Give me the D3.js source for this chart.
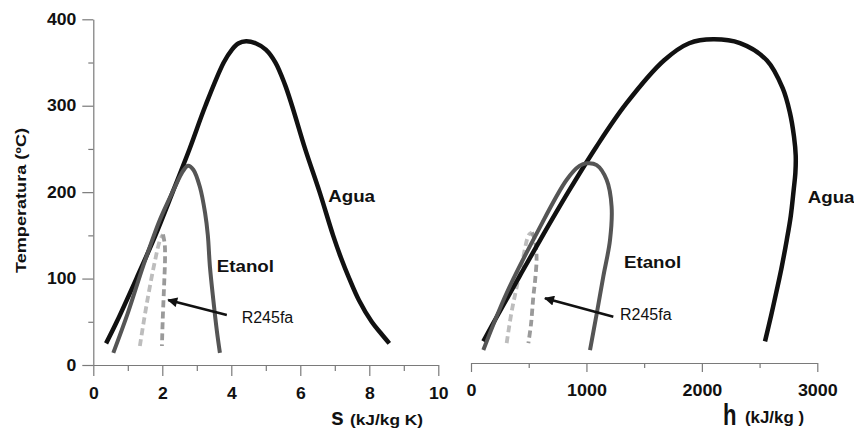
<!DOCTYPE html>
<html>
<head>
<meta charset="utf-8">
<script src="https://cdn.jsdelivr.net/npm/d3@7"></script>
<style>
  body { margin: 0; background: #fff; }
  text { font-family: "Liberation Sans", Arial, sans-serif; }
</style>
</head>
<body>
<svg id="chart" width="854" height="430"></svg>
<script>
// ---- data ----
// T-s diagram, [s (kJ/kg K), T (ºC)]
const aguaS = [[0.37,25],[0.68,50],[1.25,100],[1.80,150],[2.30,200],[2.79,250],[3.25,300],[3.78,350],[4.02,365],[4.2,372],[4.43,374.5],
  [4.72,372],[5.0,365],[5.28,350],[5.55,325],[5.76,300],[6.14,250],[6.56,200],[6.95,150],[7.17,125],[7.42,100],[7.7,75],
  [8.07,50],[8.33,37],[8.58,25]];
const etanolS = [[0.58,14],[1.0,60],[1.45,115],[1.93,168],[2.32,202],[2.61,225],[2.75,230.5],[2.9,226],[3.09,206],[3.24,176],
  [3.32,150],[3.38,114],[3.48,75],[3.58,40],[3.67,14]];
const r245LiqS = [[1.35,22],[1.55,71],[1.79,121],[1.93,144],[2.02,151]];
const r245VapS = [[2.02,151],[2.07,140],[2.08,125],[2.05,90],[2.01,50],[1.99,22]];

// T-h diagram, [h (kJ/kg), T (ºC)]
const aguaH = [[107,25],[209,50],[419,100],[632,150],[852,200],[1085,250],[1344,300],[1671,350],[1890,370],[2099,374.5],
  [2330,370],[2564,350],[2700,318],[2762,290],[2798,262],[2813,240],[2810,220],[2795,200],[2770,170],[2735,142],
  [2690,110],[2650,85],[2600,55],[2547,25]];
const etanolH = [[107,15],[309,81],[569,150],[829,212],[940,228],[1002,231],[1089,229],[1175,212],[1218,181],[1204,142],
  [1146,100],[1089,57],[1031,15]];
const r245LiqH = [[309,23],[350,58],[396,88],[453,123],[500,148],[527,151]];
const r245VapH = [[527,151],[552,143],[568,123],[555,95],[540,77],[520,45],[497,23]];

const tTicks = [0, 100, 200, 300, 400];
const tMinor = [50, 150, 250, 350];
const sTicks = [0, 2, 4, 6, 8, 10];
const sMinor = [1, 3, 5, 7, 9];
const hTicks = [0, 1000, 2000, 3000];
const hMinor = [500, 1500, 2500];

const svg = d3.select("#chart");

// scales
const xS = d3.scaleLinear().domain([0, 10]).range([93.3, 438.3]);
const yS = d3.scaleLinear().domain([0, 400]).range([365, 19.3]);
const xH = d3.scaleLinear().domain([0, 3000]).range([471, 817.3]);
const yH = d3.scaleLinear().domain([0, 400]).range([363, 17.3]);

function stretch(sel, k) {
  sel.each(function() {
    const len = this.getComputedTextLength();
    d3.select(this).attr("textLength", len * k).attr("lengthAdjust", "spacingAndGlyphs");
  });
}

function styleAxis(g) {
  g.selectAll("path.domain").attr("stroke", "#7a7a7a").attr("stroke-width", 1.2);
  g.selectAll(".tick line").attr("stroke", "#7a7a7a").attr("stroke-width", 1.2);
  g.selectAll(".tick text")
    .attr("fill", "#111")
    .style("font-size", "16px")
    .style("font-weight", "bold")
    .style("font-family", "'Liberation Sans', Arial, sans-serif");
}

// ---- left panel axes ----
const yAxisMinor = svg.append("g").attr("transform", "translate(93.3,0)")
  .call(d3.axisLeft(yS).tickValues(tMinor).tickSize(5).tickFormat(""));
yAxisMinor.select("path.domain").remove();
styleAxis(yAxisMinor);
const yAxis = svg.append("g").attr("transform", "translate(93.3,0)")
  .call(d3.axisLeft(yS).tickValues(tTicks).tickSize(11).tickSizeOuter(0).tickPadding(6));
styleAxis(yAxis);
stretch(yAxis.selectAll(".tick text"), 1.1);

const xAxisMinor = svg.append("g").attr("transform", "translate(0,365)")
  .call(d3.axisBottom(xS).tickValues(sMinor).tickSize(6).tickFormat(""));
xAxisMinor.select("path.domain").remove();
styleAxis(xAxisMinor);
const xAxis = svg.append("g").attr("transform", "translate(0,365)")
  .call(d3.axisBottom(xS).tickValues(sTicks).tickSize(11).tickSizeOuter(0).tickPadding(11.5));
styleAxis(xAxis);
stretch(xAxis.selectAll(".tick text"), 1.1);

// ---- right panel axis ----
const hAxisMinor = svg.append("g").attr("transform", "translate(0,363)")
  .call(d3.axisBottom(xH).tickValues(hMinor).tickSize(5).tickFormat(""));
hAxisMinor.select("path.domain").remove();
styleAxis(hAxisMinor);
const hAxis = svg.append("g").attr("transform", "translate(0,363)")
  .call(d3.axisBottom(xH).tickValues(hTicks).tickSize(9).tickSizeOuter(0).tickPadding(13)
    .tickFormat(d3.format("d")));
styleAxis(hAxis);
stretch(hAxis.selectAll(".tick text"), 1.12);

// ---- titles ----
const yTitle = svg.append("text")
  .attr("transform", "translate(26,200.5) rotate(-90)")
  .attr("text-anchor", "middle")
  .style("font-size", "15px").style("font-weight", "bold").attr("fill", "#111")
  .text("Temperatura (ºC)");
yTitle.attr("textLength", 145).attr("lengthAdjust", "spacingAndGlyphs");

svg.append("text").attr("x", 331).attr("y", 425)
  .style("font-size", "23px").style("font-weight", "bold").attr("fill", "#111")
  .text("s");
svg.append("text").attr("x", 350).attr("y", 425)
  .style("font-size", "15px").style("font-weight", "bold").attr("fill", "#111")
  .attr("textLength", 73).attr("lengthAdjust", "spacingAndGlyphs")
  .text("(kJ/kg K)");

svg.append("text").attr("x", 723).attr("y", 425)
  .style("font-size", "30px").style("font-weight", "bold").attr("fill", "#111")
  .attr("textLength", 13.5).attr("lengthAdjust", "spacingAndGlyphs")
  .text("h");
svg.append("text").attr("x", 745).attr("y", 422.5)
  .style("font-size", "16px").style("font-weight", "bold").attr("fill", "#111")
  .attr("textLength", 59).attr("lengthAdjust", "spacingAndGlyphs")
  .text("(kJ/kg )");

// ---- curves ----
function drawPanel(x, y, agua, etanol, liq, vap) {
  const line = d3.line()
    .x(d => x(d[0]))
    .y(d => y(d[1]))
    .curve(d3.curveCatmullRom.alpha(0.5));

  svg.append("path").datum(liq)
    .attr("d", line).attr("fill", "none")
    .attr("stroke", "#bdbdbd").attr("stroke-width", 3.8)
    .attr("stroke-dasharray", "7,4");
  svg.append("path").datum(vap)
    .attr("d", line).attr("fill", "none")
    .attr("stroke", "#9a9a9a").attr("stroke-width", 3.8)
    .attr("stroke-dasharray", "7,4");
  svg.append("path").datum(agua)
    .attr("d", line).attr("fill", "none")
    .attr("stroke", "#111").attr("stroke-width", 4.5);
  svg.append("path").datum(etanol)
    .attr("d", line).attr("fill", "none")
    .attr("stroke", "#555").attr("stroke-width", 4);
}

drawPanel(xS, yS, aguaS, etanolS, r245LiqS, r245VapS);
drawPanel(xH, yH, aguaH, etanolH, r245LiqH, r245VapH);

// ---- annotations ----
svg.append("defs").append("marker")
  .attr("id", "head")
  .attr("viewBox", "0 0 10 10")
  .attr("refX", 9).attr("refY", 5)
  .attr("markerUnits", "userSpaceOnUse")
  .attr("markerWidth", 12).attr("markerHeight", 10)
  .attr("orient", "auto")
  .append("path").attr("d", "M0,0 L10,5 L0,10 z").attr("fill", "#111");

function notes(x, y, list, arrow) {
  list.forEach(function(n) {
    const t = svg.append("text")
      .attr("x", x(n.at[0])).attr("y", y(n.at[1]))
      .attr("fill", "#111")
      .style("font-size", "16px")
      .style("font-weight", n.bold ? "bold" : "normal")
      .text(n.label);
    if (n.bold) stretch(t, 1.17);
  });
  svg.append("line")
    .attr("x1", x(arrow[0][0])).attr("y1", y(arrow[0][1]))
    .attr("x2", x(arrow[1][0])).attr("y2", y(arrow[1][1]))
    .attr("stroke", "#111").attr("stroke-width", 2.6)
    .attr("marker-end", "url(#head)");
}

notes(xS, yS, [
  {label: "Agua", at: [6.81, 189], bold: true},
  {label: "Etanol", at: [3.58, 108], bold: true},
  {label: "R245fa", at: [4.30, 48.6], bold: false}
], [[3.87, 57.9], [2.17, 75.2]]);

notes(xH, yH, [
  {label: "Agua", at: [2917, 185], bold: true},
  {label: "Etanol", at: [1325, 110], bold: true},
  {label: "R245fa", at: [1291, 49.8], bold: false}
], [[1233, 53.6], [641, 74.9]]);
</script>
</body>
</html>
